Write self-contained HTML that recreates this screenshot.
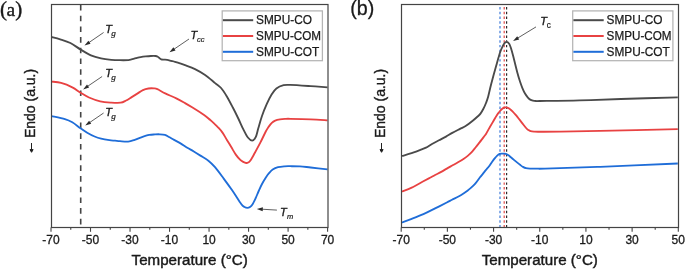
<!DOCTYPE html>
<html><head><meta charset="utf-8"><title>DSC curves</title><style>
html,body{margin:0;padding:0;background:#fff;}
body{width:685px;height:269px;overflow:hidden;}
svg{display:block;will-change:transform;}
text{font-family:"Liberation Sans",sans-serif;fill:#1a1a1a;}
.tk text{font-size:12px;stroke:#1a1a1a;stroke-width:0.3px;}
.ax{font-size:14px;stroke:#1a1a1a;stroke-width:0.4px;}
.lg{font-size:12px;fill:#1a1a1a;stroke:#1a1a1a;stroke-width:0.25px;}
.pa{font-family:"Liberation Serif",serif;font-size:21px;stroke:#1a1a1a;stroke-width:0.4px;}
.pb{font-size:20.5px;stroke:#1a1a1a;stroke-width:0.3px;}
.tl{font-style:italic;stroke:#1a1a1a;stroke-width:0.35px;}
.ts{font-style:italic;stroke:#1a1a1a;stroke-width:0.2px;}
.tsu{stroke:#1a1a1a;stroke-width:0.2px;}
.tsg{font-family:"Liberation Serif",serif;font-style:italic;stroke:#1a1a1a;stroke-width:0.2px;}
</style></head>
<body>
<svg width="685" height="269" viewBox="0 0 685 269">
<rect width="685" height="269" fill="#fff"/>
<line x1="80.7" y1="5.0" x2="80.7" y2="227" stroke="#444" stroke-width="1.6" stroke-dasharray="5.6,5.09"/>
<rect x="222.20" y="10.90" width="100.2" height="49.8" fill="#fff" stroke="#b4b4b4" stroke-width="1.25"/><line x1="222.90" y1="20.20" x2="253.20" y2="20.20" stroke="#4a4a4a" stroke-width="2"/><text x="256.10" y="23.90" class="lg" textLength="55.9" lengthAdjust="spacingAndGlyphs">SMPU-CO</text><line x1="222.90" y1="36.00" x2="253.20" y2="36.00" stroke="#e84242" stroke-width="2"/><text x="256.10" y="39.70" class="lg" textLength="65.0" lengthAdjust="spacingAndGlyphs">SMPU-COM</text><line x1="222.90" y1="51.80" x2="253.20" y2="51.80" stroke="#1f6dd8" stroke-width="2"/><text x="256.10" y="55.50" class="lg" textLength="63.2" lengthAdjust="spacingAndGlyphs">SMPU-COT</text>
<path d="M51.50,37.00 C52.95,37.38 57.05,38.30 60.20,39.30 C63.35,40.30 66.98,41.28 70.40,43.00 C73.82,44.72 77.28,47.53 80.70,49.60 C84.12,51.67 87.52,53.93 90.90,55.40 C94.28,56.87 97.60,57.67 101.00,58.40 C104.40,59.13 108.13,59.50 111.30,59.80 C114.47,60.10 117.15,60.15 120.00,60.20 C122.85,60.25 126.48,60.23 128.40,60.10 C130.32,59.97 130.23,59.72 131.50,59.40 C132.77,59.08 134.47,58.58 136.00,58.20 C137.53,57.82 139.07,57.40 140.70,57.10 C142.33,56.80 144.10,56.58 145.80,56.40 C147.50,56.22 149.28,56.07 150.90,56.00 C152.52,55.93 154.35,55.88 155.50,56.00 C156.65,56.12 157.12,56.33 157.80,56.70 C158.48,57.07 159.03,57.77 159.60,58.20 C160.17,58.63 160.47,59.07 161.20,59.30 C161.93,59.53 163.00,59.52 164.00,59.60 C165.00,59.68 165.98,59.58 167.20,59.80 C168.42,60.02 170.00,60.55 171.30,60.90 C172.60,61.25 173.55,61.48 175.00,61.90 C176.45,62.32 178.33,62.87 180.00,63.40 C181.67,63.93 182.50,64.15 185.00,65.10 C187.50,66.05 191.65,67.45 195.00,69.10 C198.35,70.75 201.75,72.67 205.10,75.00 C208.45,77.33 212.43,80.93 215.10,83.10 C217.77,85.27 219.17,85.82 221.10,88.00 C223.03,90.18 224.77,92.98 226.70,96.20 C228.63,99.42 230.77,103.58 232.70,107.30 C234.63,111.02 236.50,114.77 238.30,118.50 C240.10,122.23 241.90,126.53 243.50,129.70 C245.10,132.87 246.45,135.68 247.90,137.50 C249.35,139.32 250.90,140.65 252.20,140.60 C253.50,140.55 254.68,139.25 255.70,137.20 C256.72,135.15 257.27,131.80 258.30,128.30 C259.33,124.80 260.50,120.22 261.90,116.20 C263.30,112.18 265.08,107.82 266.70,104.20 C268.32,100.58 269.98,97.12 271.60,94.50 C273.22,91.88 274.40,90.05 276.40,88.50 C278.40,86.95 281.30,85.80 283.60,85.20 C285.90,84.60 285.68,84.75 290.20,84.90 C294.72,85.05 304.48,85.70 310.70,86.10 C316.92,86.50 324.70,87.10 327.50,87.30" fill="none" stroke="#4a4a4a" stroke-width="1.85"/>
<path d="M51.50,81.60 C53.10,81.82 57.63,81.95 61.10,82.90 C64.57,83.85 69.03,85.65 72.30,87.30 C75.57,88.95 77.92,91.10 80.70,92.80 C83.48,94.50 85.75,96.08 89.00,97.50 C92.25,98.92 96.48,100.45 100.20,101.30 C103.92,102.15 107.90,102.37 111.30,102.60 C114.70,102.83 118.13,103.05 120.60,102.70 C123.07,102.35 124.25,101.43 126.10,100.50 C127.95,99.57 129.83,98.25 131.70,97.10 C133.57,95.95 135.43,94.77 137.30,93.60 C139.17,92.43 141.05,90.95 142.90,90.10 C144.75,89.25 146.55,88.78 148.40,88.50 C150.25,88.22 152.50,88.28 154.00,88.40 C155.50,88.52 155.53,88.37 157.40,89.20 C159.27,90.03 162.05,91.87 165.20,93.40 C168.35,94.93 173.00,96.78 176.30,98.40 C179.60,100.02 182.37,101.62 185.00,103.10 C187.63,104.58 188.92,105.32 192.10,107.30 C195.28,109.28 201.12,112.92 204.10,115.00 C207.08,117.08 208.35,118.40 210.00,119.80 C211.65,121.20 212.67,122.15 214.00,123.40 C215.33,124.65 216.58,125.77 218.00,127.30 C219.42,128.83 221.02,130.50 222.50,132.60 C223.98,134.70 225.42,137.45 226.90,139.90 C228.38,142.35 229.92,144.85 231.40,147.30 C232.88,149.75 234.32,152.50 235.80,154.60 C237.28,156.70 239.07,158.68 240.30,159.90 C241.53,161.12 242.23,161.38 243.20,161.90 C244.17,162.42 245.20,162.93 246.10,163.00 C247.00,163.07 247.85,162.75 248.60,162.30 C249.35,161.85 249.60,161.80 250.60,160.30 C251.60,158.80 252.98,156.23 254.60,153.30 C256.22,150.37 258.42,146.38 260.30,142.70 C262.18,139.02 264.53,133.82 265.90,131.20 C267.27,128.58 267.52,128.40 268.50,127.00 C269.48,125.60 270.68,123.87 271.80,122.80 C272.92,121.73 273.83,121.17 275.20,120.60 C276.57,120.03 278.37,119.68 280.00,119.40 C281.63,119.12 283.30,119.00 285.00,118.90 C286.70,118.80 285.92,118.73 290.20,118.80 C294.48,118.87 304.48,119.05 310.70,119.30 C316.92,119.55 324.70,120.13 327.50,120.30" fill="none" stroke="#e84242" stroke-width="1.85"/>
<path d="M51.50,116.10 C53.73,116.60 61.43,118.07 64.90,119.10 C68.37,120.13 69.70,120.77 72.30,122.30 C74.90,123.83 78.02,126.57 80.50,128.30 C82.98,130.03 84.85,131.33 87.20,132.70 C89.55,134.07 92.28,135.50 94.60,136.50 C96.92,137.50 98.63,138.08 101.10,138.70 C103.57,139.32 107.08,139.87 109.40,140.20 C111.72,140.53 113.23,140.53 115.00,140.70 C116.77,140.87 117.82,141.05 120.00,141.20 C122.18,141.35 125.65,141.82 128.10,141.60 C130.55,141.38 132.50,140.62 134.70,139.90 C136.90,139.18 138.88,138.13 141.30,137.30 C143.72,136.47 146.92,135.38 149.20,134.90 C151.48,134.42 153.25,134.50 155.00,134.40 C156.75,134.30 158.05,134.22 159.70,134.30 C161.35,134.38 163.35,134.45 164.90,134.90 C166.45,135.35 167.47,136.17 169.00,137.00 C170.53,137.83 172.18,138.83 174.10,139.90 C176.02,140.97 178.30,142.10 180.50,143.40 C182.70,144.70 185.08,146.35 187.30,147.70 C189.52,149.05 191.62,150.18 193.80,151.50 C195.98,152.82 197.97,154.07 200.40,155.60 C202.83,157.13 205.97,158.77 208.40,160.70 C210.83,162.63 212.45,164.22 215.00,167.20 C217.55,170.18 220.78,174.67 223.70,178.60 C226.62,182.53 229.58,186.57 232.50,190.80 C235.42,195.03 239.20,201.30 241.20,204.00 C243.20,206.70 243.47,206.35 244.50,207.00 C245.53,207.65 246.48,207.90 247.40,207.90 C248.32,207.90 249.13,207.62 250.00,207.00 C250.87,206.38 251.68,205.62 252.60,204.20 C253.52,202.78 254.48,200.70 255.50,198.50 C256.52,196.30 257.62,193.42 258.70,191.00 C259.78,188.58 260.83,186.20 262.00,184.00 C263.17,181.80 264.53,179.60 265.70,177.80 C266.87,176.00 267.83,174.57 269.00,173.20 C270.17,171.83 271.20,170.60 272.70,169.60 C274.20,168.60 276.03,167.75 278.00,167.20 C279.97,166.65 282.47,166.47 284.50,166.30 C286.53,166.13 287.62,166.18 290.20,166.20 C292.78,166.22 296.58,166.18 300.00,166.40 C303.42,166.62 306.12,167.02 310.70,167.50 C315.28,167.98 324.70,169.00 327.50,169.30" fill="none" stroke="#1f6dd8" stroke-width="1.85"/>
<rect x="51.50" y="4.50" width="276.50" height="223.00" fill="none" stroke="#444444" stroke-width="1.2"/>
<g stroke="#444444" stroke-width="1.1"><line x1="51.00" y1="227.50" x2="51.00" y2="231.80"/><line x1="70.76" y1="227.50" x2="70.76" y2="229.70"/><line x1="90.51" y1="227.50" x2="90.51" y2="231.80"/><line x1="110.27" y1="227.50" x2="110.27" y2="229.70"/><line x1="130.03" y1="227.50" x2="130.03" y2="231.80"/><line x1="149.79" y1="227.50" x2="149.79" y2="229.70"/><line x1="169.54" y1="227.50" x2="169.54" y2="231.80"/><line x1="189.30" y1="227.50" x2="189.30" y2="229.70"/><line x1="209.06" y1="227.50" x2="209.06" y2="231.80"/><line x1="228.81" y1="227.50" x2="228.81" y2="229.70"/><line x1="248.57" y1="227.50" x2="248.57" y2="231.80"/><line x1="268.33" y1="227.50" x2="268.33" y2="229.70"/><line x1="288.09" y1="227.50" x2="288.09" y2="231.80"/><line x1="307.84" y1="227.50" x2="307.84" y2="229.70"/><line x1="327.60" y1="227.50" x2="327.60" y2="231.80"/></g>
<g class="tk"><text x="51.00" y="244.40" text-anchor="middle">-70</text><text x="90.51" y="244.40" text-anchor="middle">-50</text><text x="130.03" y="244.40" text-anchor="middle">-30</text><text x="169.54" y="244.40" text-anchor="middle">-10</text><text x="209.06" y="244.40" text-anchor="middle">10</text><text x="248.57" y="244.40" text-anchor="middle">30</text><text x="288.09" y="244.40" text-anchor="middle">50</text><text x="327.60" y="244.40" text-anchor="middle">70</text></g>
<text x="131.6" y="264.5" class="ax" textLength="116.2" lengthAdjust="spacingAndGlyphs">Temperature (°C)</text>
<text transform="translate(35.3,138.1) rotate(-90)" class="ax">Endo (a.u.)</text>
<g stroke="#222" stroke-width="1" fill="#222"><line x1="31.5" y1="143" x2="31.5" y2="150.2"/><polygon points="30.0,149.6 33.1,149.6 31.55,152.3"/></g>
<text x="0" y="15.6" class="pa">(<tspan style="font-size:19.5px" dx="-0.6">a</tspan><tspan dx="0.2">)</tspan></text>
<line x1="103.60" y1="32.50" x2="89.04" y2="42.49" stroke="#2a2a2a" stroke-width="0.75"/><polygon points="84.50,45.60 88.37,40.64 90.52,43.77" fill="#2a2a2a"/>
<text x="105.20" y="32.60" class="tl" style="font-size:11.0px">T</text><text x="111.20" y="35.90" class="tsg" style="font-size:9.2px">g</text>
<line x1="102.10" y1="76.50" x2="87.65" y2="86.31" stroke="#2a2a2a" stroke-width="0.75"/><polygon points="83.10,89.40 87.00,84.46 89.13,87.60" fill="#2a2a2a"/>
<text x="105.20" y="76.60" class="tl" style="font-size:11.0px">T</text><text x="111.20" y="79.90" class="tsg" style="font-size:9.2px">g</text>
<line x1="103.60" y1="113.00" x2="89.74" y2="122.49" stroke="#2a2a2a" stroke-width="0.75"/><polygon points="85.20,125.60 89.08,120.64 91.22,123.78" fill="#2a2a2a"/>
<text x="105.20" y="115.90" class="tl" style="font-size:11.0px">T</text><text x="111.20" y="119.20" class="tsg" style="font-size:9.2px">g</text>
<line x1="189.00" y1="39.00" x2="174.04" y2="49.20" stroke="#2a2a2a" stroke-width="0.75"/><polygon points="169.50,52.30 173.39,47.35 175.53,50.49" fill="#2a2a2a"/>
<text x="190.40" y="38.80" class="tl" style="font-size:11.0px">T</text><text x="197.10" y="42.00" class="ts" style="font-size:7.5px">cc</text>
<line x1="276.90" y1="210.10" x2="262.29" y2="209.23" stroke="#2a2a2a" stroke-width="0.75"/><polygon points="256.80,208.90 262.90,207.36 262.68,211.15" fill="#2a2a2a"/>
<text x="280.10" y="215.70" class="tl" style="font-size:11.0px">T</text><text x="286.90" y="218.70" class="ts" style="font-size:7.5px">m</text>
<line x1="500.00" y1="7.0" x2="500.00" y2="227" stroke="#3a78d8" stroke-width="1.2" stroke-dasharray="2.45,2.29"/>
<line x1="504.20" y1="7.0" x2="504.20" y2="227" stroke="#e04848" stroke-width="1.2" stroke-dasharray="2.45,2.29"/>
<line x1="506.60" y1="7.0" x2="506.60" y2="227" stroke="#2a2a2a" stroke-width="1.2" stroke-dasharray="2.45,2.29"/>
<rect x="572.70" y="10.90" width="100.2" height="49.8" fill="#fff" stroke="#b4b4b4" stroke-width="1.25"/><line x1="573.40" y1="20.20" x2="603.70" y2="20.20" stroke="#4a4a4a" stroke-width="2"/><text x="606.60" y="23.90" class="lg" textLength="55.9" lengthAdjust="spacingAndGlyphs">SMPU-CO</text><line x1="573.40" y1="36.00" x2="603.70" y2="36.00" stroke="#e84242" stroke-width="2"/><text x="606.60" y="39.70" class="lg" textLength="65.0" lengthAdjust="spacingAndGlyphs">SMPU-COM</text><line x1="573.40" y1="51.80" x2="603.70" y2="51.80" stroke="#1f6dd8" stroke-width="2"/><text x="606.60" y="55.50" class="lg" textLength="63.2" lengthAdjust="spacingAndGlyphs">SMPU-COT</text>
<path d="M402.10,156.00 C403.92,155.43 409.95,153.62 413.00,152.60 C416.05,151.58 418.23,150.73 420.40,149.90 C422.57,149.07 424.07,148.58 426.00,147.60 C427.93,146.62 429.83,145.22 432.00,144.00 C434.17,142.78 436.67,141.53 439.00,140.30 C441.33,139.07 443.78,137.83 446.00,136.60 C448.22,135.37 449.97,134.18 452.30,132.90 C454.63,131.62 457.72,130.08 460.00,128.90 C462.28,127.72 463.93,127.12 466.00,125.80 C468.07,124.48 470.42,122.60 472.40,121.00 C474.38,119.40 476.55,117.43 477.90,116.20 C479.25,114.97 479.58,114.83 480.50,113.60 C481.42,112.37 482.48,110.57 483.40,108.80 C484.32,107.03 485.20,105.05 486.00,103.00 C486.80,100.95 487.33,99.67 488.20,96.50 C489.07,93.33 489.83,89.25 491.20,84.00 C492.57,78.75 494.88,70.37 496.40,65.00 C497.92,59.63 499.20,55.03 500.30,51.80 C501.40,48.57 502.28,47.05 503.00,45.60 C503.72,44.15 504.05,43.72 504.60,43.10 C505.15,42.48 505.73,42.02 506.30,41.90 C506.87,41.78 507.48,42.02 508.00,42.40 C508.52,42.78 508.90,43.22 509.40,44.20 C509.90,45.18 510.35,46.23 511.00,48.30 C511.65,50.37 512.25,52.57 513.30,56.60 C514.35,60.63 516.18,68.35 517.30,72.50 C518.42,76.65 519.13,78.87 520.00,81.50 C520.87,84.13 521.67,86.30 522.50,88.30 C523.33,90.30 524.13,92.00 525.00,93.50 C525.87,95.00 526.83,96.28 527.70,97.30 C528.57,98.32 529.33,99.05 530.20,99.60 C531.07,100.15 531.93,100.37 532.90,100.60 C533.87,100.83 534.82,100.93 536.00,101.00 C537.18,101.07 532.75,101.10 540.00,101.00 C547.25,100.90 566.02,100.73 579.50,100.40 C592.98,100.07 604.52,99.52 620.90,99.00 C637.28,98.48 668.32,97.58 677.80,97.30" fill="none" stroke="#4a4a4a" stroke-width="1.85"/>
<path d="M401.90,191.50 C403.53,190.85 408.12,189.30 411.70,187.60 C415.28,185.90 420.35,182.93 423.40,181.30 C426.45,179.67 428.05,178.85 430.00,177.80 C431.95,176.75 433.23,175.98 435.10,175.00 C436.97,174.02 439.25,172.97 441.20,171.90 C443.15,170.83 444.95,169.67 446.80,168.60 C448.65,167.53 450.43,166.55 452.30,165.50 C454.17,164.45 456.13,163.40 458.00,162.30 C459.87,161.20 461.83,160.02 463.50,158.90 C465.17,157.78 466.52,156.87 468.00,155.60 C469.48,154.33 471.15,152.65 472.40,151.30 C473.65,149.95 474.47,148.78 475.50,147.50 C476.53,146.22 477.60,144.87 478.60,143.60 C479.60,142.33 480.57,141.12 481.50,139.90 C482.43,138.68 483.45,137.30 484.20,136.30 C484.95,135.30 485.20,135.18 486.00,133.90 C486.80,132.62 488.02,130.32 489.00,128.60 C489.98,126.88 490.85,125.40 491.90,123.60 C492.95,121.80 494.30,119.47 495.30,117.80 C496.30,116.13 497.12,114.73 497.90,113.60 C498.68,112.47 499.27,111.80 500.00,111.00 C500.73,110.20 501.63,109.35 502.30,108.80 C502.97,108.25 503.50,107.93 504.00,107.70 C504.50,107.47 504.80,107.42 505.30,107.40 C505.80,107.38 506.25,107.35 507.00,107.60 C507.75,107.85 508.88,108.28 509.80,108.90 C510.72,109.52 511.52,110.30 512.50,111.30 C513.48,112.30 514.18,113.07 515.70,114.90 C517.22,116.73 519.87,120.12 521.60,122.30 C523.33,124.48 524.95,126.70 526.10,128.00 C527.25,129.30 527.75,129.58 528.50,130.10 C529.25,130.62 529.68,130.85 530.60,131.10 C531.52,131.35 532.77,131.50 534.00,131.60 C535.23,131.70 533.67,131.70 538.00,131.70 C542.33,131.70 549.63,131.75 560.00,131.60 C570.37,131.45 580.57,131.20 600.20,130.80 C619.83,130.40 664.87,129.47 677.80,129.20" fill="none" stroke="#e84242" stroke-width="1.85"/>
<path d="M401.90,222.40 C403.53,221.82 408.12,220.27 411.70,218.90 C415.28,217.53 419.50,215.95 423.40,214.20 C427.30,212.45 431.20,210.35 435.10,208.40 C439.00,206.45 443.98,203.95 446.80,202.50 C449.62,201.05 450.05,200.70 452.00,199.70 C453.95,198.70 456.58,197.53 458.50,196.50 C460.42,195.47 462.08,194.42 463.50,193.50 C464.92,192.58 465.87,191.85 467.00,191.00 C468.13,190.15 469.03,189.50 470.30,188.40 C471.57,187.30 473.40,185.67 474.60,184.40 C475.80,183.13 476.60,181.98 477.50,180.80 C478.40,179.62 479.17,178.38 480.00,177.30 C480.83,176.22 481.53,175.48 482.50,174.30 C483.47,173.12 484.70,171.55 485.80,170.20 C486.90,168.85 488.07,167.57 489.10,166.20 C490.13,164.83 491.07,163.30 492.00,162.00 C492.93,160.70 493.83,159.47 494.70,158.40 C495.57,157.33 496.37,156.35 497.20,155.60 C498.03,154.85 498.90,154.23 499.70,153.90 C500.50,153.57 501.15,153.63 502.00,153.60 C502.85,153.57 503.78,153.47 504.80,153.70 C505.82,153.93 507.10,154.42 508.10,155.00 C509.10,155.58 509.87,156.43 510.80,157.20 C511.73,157.97 512.67,158.73 513.70,159.60 C514.73,160.47 515.88,161.48 517.00,162.40 C518.12,163.32 519.40,164.35 520.40,165.10 C521.40,165.85 522.07,166.38 523.00,166.90 C523.93,167.42 524.83,167.92 526.00,168.20 C527.17,168.48 528.00,168.53 530.00,168.60 C532.00,168.67 535.50,168.60 538.00,168.60 C540.50,168.60 534.63,168.90 545.00,168.60 C555.37,168.30 578.07,167.65 600.20,166.80 C622.33,165.95 664.87,164.05 677.80,163.50" fill="none" stroke="#1f6dd8" stroke-width="1.85"/>
<rect x="401.50" y="4.50" width="277.00" height="223.00" fill="none" stroke="#444444" stroke-width="1.2"/>
<g stroke="#444444" stroke-width="1.1"><line x1="401.20" y1="227.50" x2="401.20" y2="231.80"/><line x1="424.29" y1="227.50" x2="424.29" y2="229.70"/><line x1="447.38" y1="227.50" x2="447.38" y2="231.80"/><line x1="470.47" y1="227.50" x2="470.47" y2="229.70"/><line x1="493.57" y1="227.50" x2="493.57" y2="231.80"/><line x1="516.66" y1="227.50" x2="516.66" y2="229.70"/><line x1="539.75" y1="227.50" x2="539.75" y2="231.80"/><line x1="562.84" y1="227.50" x2="562.84" y2="229.70"/><line x1="585.93" y1="227.50" x2="585.93" y2="231.80"/><line x1="609.02" y1="227.50" x2="609.02" y2="229.70"/><line x1="632.12" y1="227.50" x2="632.12" y2="231.80"/><line x1="655.21" y1="227.50" x2="655.21" y2="229.70"/><line x1="678.30" y1="227.50" x2="678.30" y2="231.80"/></g>
<g class="tk"><text x="401.20" y="244.40" text-anchor="middle">-70</text><text x="447.38" y="244.40" text-anchor="middle">-50</text><text x="493.57" y="244.40" text-anchor="middle">-30</text><text x="539.75" y="244.40" text-anchor="middle">-10</text><text x="585.93" y="244.40" text-anchor="middle">10</text><text x="632.12" y="244.40" text-anchor="middle">30</text><text x="678.30" y="244.40" text-anchor="middle">50</text></g>
<text x="481.7" y="264.5" class="ax" textLength="116.2" lengthAdjust="spacingAndGlyphs">Temperature (°C)</text>
<text transform="translate(385.3,138.1) rotate(-90)" class="ax">Endo (a.u.)</text>
<g stroke="#222" stroke-width="1" fill="#222"><line x1="381.5" y1="143" x2="381.5" y2="150.2"/><polygon points="380.0,149.6 383.1,149.6 381.55,152.3"/></g>
<text x="350.2" y="15.4" class="pb" textLength="24.0" lengthAdjust="spacingAndGlyphs">(b)</text>
<line x1="536.00" y1="26.90" x2="517.79" y2="38.03" stroke="#2a2a2a" stroke-width="0.75"/><polygon points="513.10,40.90 517.23,36.15 519.21,39.39" fill="#2a2a2a"/>
<text x="540.20" y="25.40" class="tl" style="font-size:11.0px">T</text><text x="546.70" y="28.20" class="tsu" style="font-size:8.2px">c</text>
</svg>
</body></html>
